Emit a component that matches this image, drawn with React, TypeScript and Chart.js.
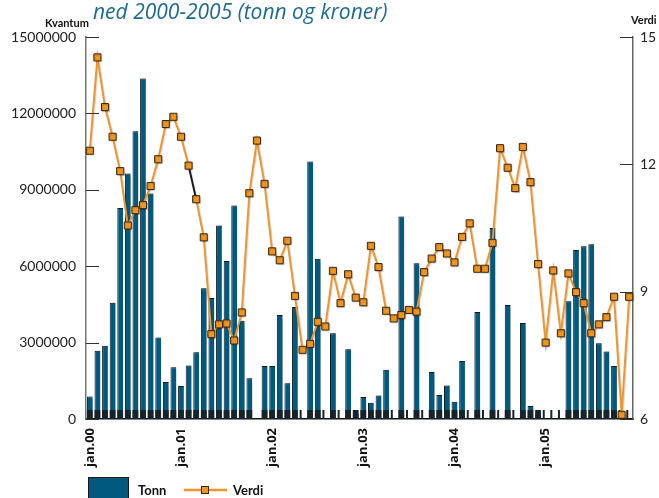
import React, { useEffect, useRef } from 'react';
import { Chart, registerables } from 'chart.js';

Chart.register(...registerables);

// ---------- data ----------
const monthNames = ['jan', 'feb', 'mar', 'apr', 'mai', 'jun', 'jul', 'aug', 'sep', 'okt', 'nov', 'des'];
const yearCodes = ['00', '01', '02', '03', '04', '05'];
const categories = yearCodes.flatMap((y) => monthNames.map((m) => `${m}.${y}`));

// Tonn (kvantum), monthly 2000-2005
const tonn2000 = [880000, 2680000, 2880000, 4560000, 8290000, 9640000, 11300000, 13370000, 8850000, 3200000, 1450000, 2030000];
const tonn2001 = [1300000, 2100000, 2620000, 5130000, 4750000, 7600000, 6200000, 8380000, 3860000, 1600000, null, 2080000];
const tonn2002 = [2080000, 4080000, 1400000, 4400000, 0, 10110000, 6290000, 0, 3370000, 0, 2740000, 200000];
const tonn2003 = [860000, 640000, 920000, 1930000, 0, 7950000, 0, 6120000, 0, 1850000, 940000, 1320000];
const tonn2004 = [680000, 2280000, 0, 4200000, 0, 7500000, 0, 4480000, 0, 3770000, 510000, 250000];
const tonn2005 = [0, 0, 0, 4620000, 6640000, 6780000, 6860000, 2970000, 2650000, 2080000, 0, 0];
const tonn = [...tonn2000, ...tonn2001, ...tonn2002, ...tonn2003, ...tonn2004, ...tonn2005];

// Verdi (kroner per kg)
const verdi2000 = [12.32, 14.52, 13.35, 12.65, 11.84, 10.56, 10.92, 11.04, 11.49, 12.12, 12.95, 13.12];
const verdi2001 = [12.65, 11.97, 11.18, 10.28, 8.0, 8.23, 8.25, 7.85, 8.51, 11.32, 12.56, 11.54];
const verdi2002 = [9.95, 9.74, 10.2, 8.9, 7.63, 7.77, 8.29, 8.18, 9.49, 8.73, 9.41, 8.86];
const verdi2003 = [8.75, 10.08, 9.58, 8.55, 8.37, 8.45, 8.57, 8.53, 9.46, 9.78, 10.05, 9.9];
const verdi2004 = [9.69, 10.29, 10.61, 9.54, 9.54, 10.15, 12.38, 11.92, 11.44, 12.41, 11.58, 9.65];
const verdi2005 = [7.8, 9.5, 8.02, 9.43, 8.99, 8.73, 8.02, 8.23, 8.4, 8.88, 6.1, 8.88];
const verdi = [...verdi2000, ...verdi2001, ...verdi2002, ...verdi2003, ...verdi2004, ...verdi2005];

const leftTicks = [0, 3000000, 6000000, 9000000, 12000000, 15000000];
const rightTicks = [6, 9, 12, 15];

const titleText = 'ned 2000-2005 (tonn og kroner)';
const leftAxisTitle = 'Kvantum';
const rightAxisTitle = 'Verdi';
const barLabel = 'Tonn';
const lineLabel = 'Verdi';

// ---------- styles ----------
const BAR_COLOR = '#005a80';
const LINE_COLOR = '#ec9630';
const POINT_FILL = '#f0951f';
const POINT_EDGE = '#3a2810';
const TITLE_COLOR = '#1e6b92';

const decorPlugin = {
  id: 'decor',
  beforeDatasetDraw(chart: any, args: any) {
    const ctx = chart.ctx;
    ctx.save();
    if (args.index === 0) {
      ctx.shadowColor = 'rgba(0,0,0,0.4)';
      ctx.shadowOffsetX = 2;
      ctx.shadowOffsetY = 0;
      ctx.shadowBlur = 1;
    } else {
      ctx.shadowColor = 'rgba(0,0,0,0.15)';
      ctx.shadowOffsetX = 1;
      ctx.shadowOffsetY = 1;
      ctx.shadowBlur = 1;
    }
  },
  afterDatasetDraw(chart: any, args: any) {
    const ctx = chart.ctx;
    ctx.restore();
    if (args.index === 0) {
      const meta = chart.getDatasetMeta(0);
      const bottom = chart.scales.y.bottom;
      ctx.save();
      ctx.fillStyle = '#17232a';
      meta.data.forEach((el: any, i: number) => {
        const v = tonn[i];
        if (v === null || v === undefined) return;
        const w = el.width;
        if (v > 0) ctx.fillRect(el.x - w / 2, bottom - 9, w, 9);
        else ctx.fillRect(el.x - w / 2, bottom - 9, 2, 9);
      });
      ctx.restore();
    }
  },
  afterDraw(chart: any) {
    const ctx = chart.ctx;
    const yl = chart.scales.y;
    const yr = chart.scales.y1;
    ctx.save();
    // inward tick marks
    ctx.strokeStyle = '#333';
    ctx.lineWidth = 1;
    yl.ticks.forEach((_t: any, i: number) => {
      const py = Math.round(yl.getPixelForTick(i)) + 0.5;
      ctx.beginPath();
      ctx.moveTo(yl.right, py);
      ctx.lineTo(yl.right + 13, py);
      ctx.stroke();
    });
    yr.ticks.forEach((_t: any, i: number) => {
      const py = Math.round(yr.getPixelForTick(i)) + 0.5;
      ctx.beginPath();
      ctx.moveTo(yr.left - 13, py);
      ctx.lineTo(yr.left, py);
      ctx.stroke();
    });

    // title & axis titles
    ctx.textBaseline = 'alphabetic';
    ctx.textAlign = 'left';
    ctx.fillStyle = TITLE_COLOR;
    ctx.font = 'italic 21px "Open Sans"';
    ctx.fillText(titleText, 93, 18.5);
    ctx.fillStyle = '#111';
    ctx.font = 'bold 11px Lato';
    ctx.fillText(leftAxisTitle, 45, 27);
    ctx.fillText(rightAxisTitle, 631, 24);

    // legend
    ctx.fillStyle = BAR_COLOR;
    ctx.fillRect(88, 477, 41, 25);
    ctx.strokeStyle = '#1a1a1a';
    ctx.strokeRect(88.5, 477.5, 40, 25);
    ctx.fillStyle = '#111';
    ctx.font = 'bold 13px Lato';
    ctx.fillText(barLabel, 138, 495);
    ctx.strokeStyle = LINE_COLOR;
    ctx.lineWidth = 2.5;
    ctx.beginPath();
    ctx.moveTo(184, 490);
    ctx.lineTo(227, 490);
    ctx.stroke();
    ctx.fillStyle = POINT_FILL;
    ctx.fillRect(201.5, 486.5, 7, 7);
    ctx.strokeStyle = POINT_EDGE;
    ctx.lineWidth = 1;
    ctx.strokeRect(201.5, 486.5, 7, 7);
    ctx.fillStyle = '#111';
    ctx.fillText(lineLabel, 233, 495);
    ctx.restore();
  },
};

export default function App() {
  const canvasRef = useRef<HTMLCanvasElement | null>(null);

  useEffect(() => {
    const canvas = canvasRef.current;
    if (!canvas) return;
    const chart = new Chart(canvas, {
      data: {
        labels: categories,
        datasets: [
          {
            type: 'bar',
            label: barLabel,
            data: tonn,
            yAxisID: 'y',
            backgroundColor: BAR_COLOR,
            borderColor: '#0e1a20',
            borderWidth: { top: 1, left: 1, right: 0, bottom: 0 },
            borderSkipped: false,
            barPercentage: 0.76,
            categoryPercentage: 1,
            order: 2,
          } as any,
          {
            type: 'line',
            label: lineLabel,
            data: verdi,
            yAxisID: 'y1',
            borderColor: LINE_COLOR,
            borderWidth: 2,
            tension: 0,
            pointStyle: 'rect',
            pointRadius: 5,
            pointBackgroundColor: POINT_FILL,
            pointBorderColor: POINT_EDGE,
            pointBorderWidth: 1,
            clip: false,
            order: 1,
            segment: {
              borderColor: (c: any) => (c.p0DataIndex === 13 ? '#1a1a1a' : undefined),
            },
          } as any,
        ],
      },
      options: {
        animation: false,
        responsive: false,
        layout: { padding: { top: 37, left: 0, right: 0, bottom: 0 } },
        plugins: {
          legend: { display: false },
          tooltip: { enabled: false },
          title: { display: false },
        },
        scales: {
          x: {
            type: 'category',
            offset: true,
            grid: { display: true, drawOnChartArea: false, drawTicks: false },
            border: { display: true, color: '#111', width: 1.5 },
            ticks: {
              autoSkip: false,
              maxRotation: 90,
              minRotation: 90,
              padding: 9,
              color: '#111',
              font: { family: '"Open Sans"', size: 13, weight: 'bold' },
              callback: (_v: any, idx: number) => (idx % 12 === 0 ? categories[idx] : ''),
            },
            afterFit: (s: any) => {
              s.height = 79;
            },
          },
          y: {
            type: 'linear',
            position: 'left',
            min: 0,
            max: 15000000,
            afterBuildTicks: (s: any) => {
              s.ticks = leftTicks.map((v) => ({ value: v }));
            },
            grid: { display: true, drawOnChartArea: false, drawTicks: false },
            border: { display: true, color: '#777', width: 1.5 },
            ticks: {
              padding: 10,
              color: '#222',
              font: { family: 'Lato', size: 14 },
              callback: (v: any) => String(v),
            },
            afterFit: (s: any) => {
              s.width = 86;
            },
          },
          y1: {
            type: 'linear',
            position: 'right',
            min: 6,
            max: 15,
            afterBuildTicks: (s: any) => {
              s.ticks = rightTicks.map((v) => ({ value: v }));
            },
            grid: { display: true, drawOnChartArea: false, drawTicks: false },
            border: { display: true, color: '#666', width: 1.5 },
            ticks: {
              padding: 7,
              color: '#222',
              font: { family: 'Lato', size: 14 },
              callback: (v: any) => String(v),
            },
            afterFit: (s: any) => {
              s.width = 26;
            },
          },
        },
      } as any,
      plugins: [decorPlugin],
    });
    return () => chart.destroy();
  }, []);

  return (
    <div style={{ position: 'absolute', left: 0, top: 0, width: 659, height: 498, background: '#fff' }}>
      <canvas ref={canvasRef} width={659} height={498} style={{ display: 'block' }} />
    </div>
  );
}
